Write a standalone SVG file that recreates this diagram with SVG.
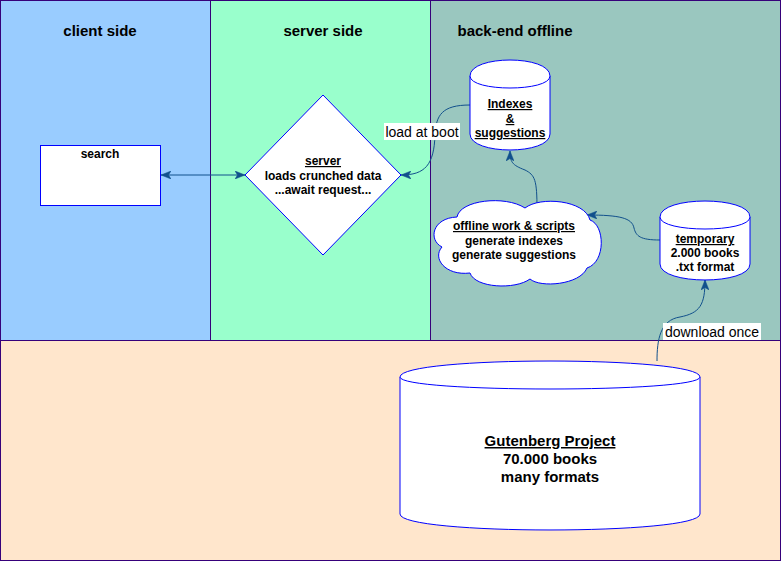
<svg xmlns="http://www.w3.org/2000/svg" width="781" height="561" viewBox="0 0 781 561">
<style>
.lane{stroke:#36007a;stroke-width:1}
.node{fill:#ffffff;stroke:#0000ff;stroke-width:1}
.t{font-family:"Liberation Sans",Arial,sans-serif;font-weight:bold;fill:#000;text-anchor:middle}
.t12{font-size:12px}
.t15{font-size:15px}
.u{text-decoration:underline}
.edge{fill:none;stroke:#11508c;stroke-width:1}
.lbl{font-family:"Liberation Sans",Arial,sans-serif;font-size:14px;fill:#000;text-anchor:middle}
</style>
<defs>
<marker id="arr" viewBox="0 0 10 8" refX="10" refY="4" markerWidth="10" markerHeight="8" markerUnits="userSpaceOnUse" orient="auto-start-reverse">
<path d="M0,0 L10,4 L0,8 L2.5,4 Z" fill="#11508c" stroke="#11508c" stroke-width="0.5"/>
</marker>
</defs>
<g id="lanes">
<rect id="client-lane" class="lane" x="0.5" y="0.5" width="210" height="340" fill="#99ccff"/>
<rect id="server-lane" class="lane" x="210.5" y="0.5" width="220" height="340" fill="#99ffcc"/>
<rect id="backend-lane" class="lane" x="430.5" y="0.5" width="350" height="340" fill="#9ac7bf"/>
<rect id="bottom-lane" class="lane" x="0.5" y="340.5" width="780" height="220" fill="#ffe6cc"/>
<text class="t t15" x="100" y="36">client side</text>
<text class="t t15" x="323" y="36">server side</text>
<text class="t t15" x="515" y="36">back-end offline</text>
</g>
<g id="connectors">
<path class="edge" d="M161,175 L245,175" marker-start="url(#arr)" marker-end="url(#arr)"/>
<path class="edge" d="M470,105 C442,105 436,115 435,135 C434,165 425,175 401,175" marker-end="url(#arr)"/>
<path class="edge" d="M537,209 C537,180 535,175 525,170 C512,165 510,162 510,151" marker-end="url(#arr)"/>
<path class="edge" d="M660,240 C640,240 636,236 634,228 C632,218 620,215 587,215" marker-end="url(#arr)"/>
<path class="edge" d="M657,361 C657,340 660,320 680,317 C700,313 705,305 705,280" marker-end="url(#arr)"/>
<rect x="384" y="123" width="76" height="17" fill="#ffffff"/>
<text class="lbl" x="422" y="136.5">load at boot</text>
<rect x="663" y="323" width="98" height="17" fill="#ffffff"/>
<text class="lbl" x="712" y="336.5">download once</text>
</g>
<g id="search">
<rect class="node" x="40.5" y="145.5" width="120" height="60"/>
<text class="t t12" x="100" y="158">search</text>
</g>
<g id="server">
<path class="node" d="M323,95 L401,175 L323,255 L245,175 Z"/>
<text class="t t12 u" x="323" y="165">server</text>
<text class="t t12" x="323" y="179.5">loads crunched data</text>
<text class="t t12" x="323" y="194">...await request...</text>
</g>
<g id="indexes">
<path class="node" d="M470,76 C470,54.7 550,54.7 550,76 L550,134 C550,155.3 470,155.3 470,134 Z"/>
<path class="node" fill="none" d="M470,76 C470,92 550,92 550,76"/>
<text class="t t12 u" x="510" y="108">Indexes</text>
<text class="t t12 u" x="510" y="123">&amp;</text>
<text class="t t12 u" x="510" y="137">suggestions</text>
</g>
<g id="offline-work">
<path class="node" d="M457,217 C460,200 505,195 525,208 C540,196 585,200 590,220 C605,225 606,262 587,268 C580,285 540,288 530,279 C515,290 475,288 470,273 C445,276 432,258 442,247 C428,240 432,218 457,217 Z"/>
<text class="t t12 u" x="514" y="230">offline work &amp; scripts</text>
<text class="t t12" x="514" y="245">generate indexes</text>
<text class="t t12" x="514" y="259">generate suggestions</text>
</g>
<g id="temporary">
<path class="node" d="M660,217 C660,195.7 750,195.7 750,217 L750,264 C750,285.3 660,285.3 660,264 Z"/>
<path class="node" fill="none" d="M660,217 C660,233 750,233 750,217"/>
<text class="t t12 u" x="705" y="243">temporary</text>
<text class="t t12" x="705" y="257">2.000 books</text>
<text class="t t12" x="705" y="271">.txt format</text>
</g>
<g id="gutenberg">
<path class="node" d="M400,377 C400,355.7 700,355.7 700,377 L700,514 C700,535.3 400,535.3 400,514 Z"/>
<path class="node" fill="none" d="M400,377 C400,393 700,393 700,377"/>
<text class="t t15 u" x="550" y="446">Gutenberg Project</text>
<text class="t t15" x="550" y="464">70.000 books</text>
<text class="t t15" x="550" y="482">many formats</text>
</g>
</svg>
